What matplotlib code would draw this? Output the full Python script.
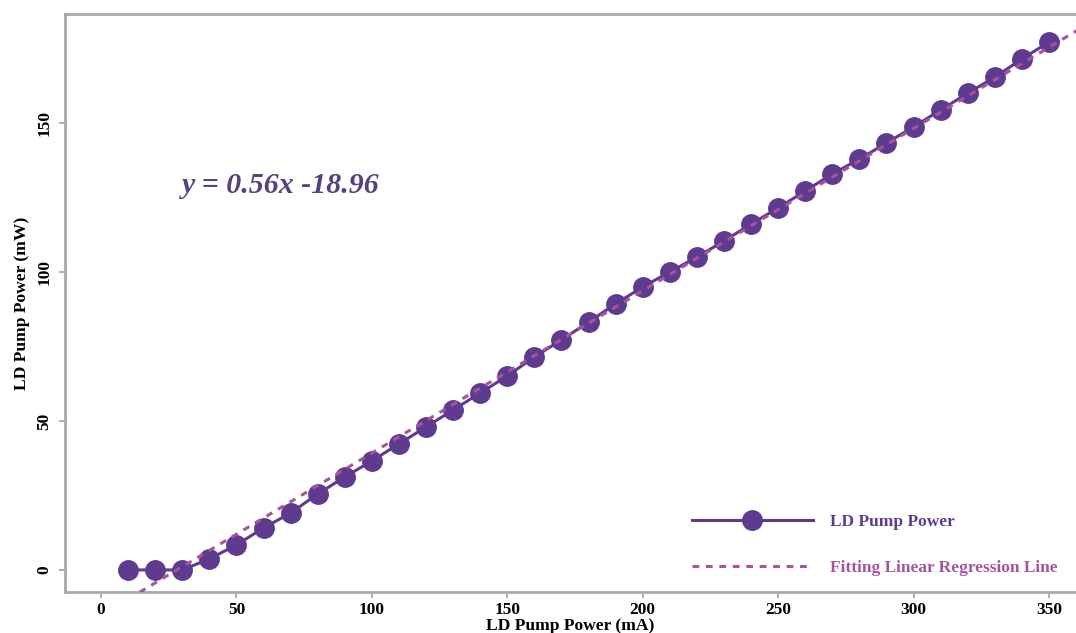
import numpy as np
import matplotlib
matplotlib.use("Agg")
import matplotlib.pyplot as plt

# LD pump current (mA) vs output power (mW)
current_ma = [10, 20, 30, 40, 50, 60, 70, 80, 90, 100, 110, 120, 130, 140, 150, 160, 170, 180,
              190, 200, 210, 220, 230, 240, 250, 260, 270, 280, 290, 300, 310, 320, 330, 340, 350]
power_mw = [0, 0, 0, 3.7, 8.4, 14.1, 19.1, 25.5, 31.2, 36.6, 42.3, 48.0, 53.7, 59.4, 65.1, 71.5,
            77.2, 83.2, 89.3, 95.0, 100.0, 105.0, 110.4, 116.1, 121.5, 127.2, 132.9, 137.9,
            143.3, 148.7, 154.4, 160.0, 165.4, 171.5, 177.2]
# the dashed fit line as it is drawn in the figure (end points)
fit_x = [10, 365]
fit_y = [-9.8, 183.6]
equation = 'y = 0.56x -18.96'

plt.rcParams['font.family'] = ['Liberation Serif', 'DejaVu Serif']
plt.rcParams['font.weight'] = 'bold'

fig = plt.figure(figsize=(10.76, 6.33), dpi=100)
ax = fig.add_axes([0.0604, 0.0648, 0.9396, 0.913])

main_col = '#5f3b8f'
fit_col = '#a5559c'

ax.plot(fit_x, fit_y, linestyle=(0, (2.2, 2.2)), color=fit_col, lw=2.2,
        label='Fitting Linear Regression Line', zorder=3)
ax.plot(current_ma, power_mw, '-o', color=main_col, lw=2.2, ms=14, mec=main_col,
        label='LD Pump Power', zorder=2)

ax.set_xlim(-13.3, 360)
ax.set_ylim(-7.4, 186.6)
ax.set_xticks([0, 50, 100, 150, 200, 250, 300, 350])
ax.set_yticks([0, 50, 100, 150])
for lab in ax.get_yticklabels():
    lab.set_rotation(90)
    lab.set_va('center')
ax.tick_params(axis='both', labelsize=12.5, color='#a0a0a0', length=4, width=1.2)
ax.tick_params(axis='y', pad=5)

for s in ['left', 'top', 'bottom']:
    ax.spines[s].set_color('#a8a8a8')
    ax.spines[s].set_linewidth(2)
ax.spines['right'].set_visible(False)

ax.set_xlabel('LD Pump Power (mA)', fontsize=12.6, fontweight='bold', labelpad=0)
ax.set_ylabel('LD Pump Power (mW)', fontsize=12.6, fontweight='bold', labelpad=5)

ax.text(30, 126.5, equation, fontsize=21.5, fontweight='bold', style='italic',
        color='#54437c')

handles, labels = ax.get_legend_handles_labels()
leg = ax.legend(handles[::-1], labels[::-1], loc='lower right', frameon=False,
                fontsize=12.5, handlelength=7, labelspacing=1.75, handletextpad=0.95,
                bbox_to_anchor=(0.997, 0.0))
leg.get_texts()[0].set_color(main_col)
leg.get_texts()[1].set_color(fit_col)

fig.savefig('out.png', dpi=100)
